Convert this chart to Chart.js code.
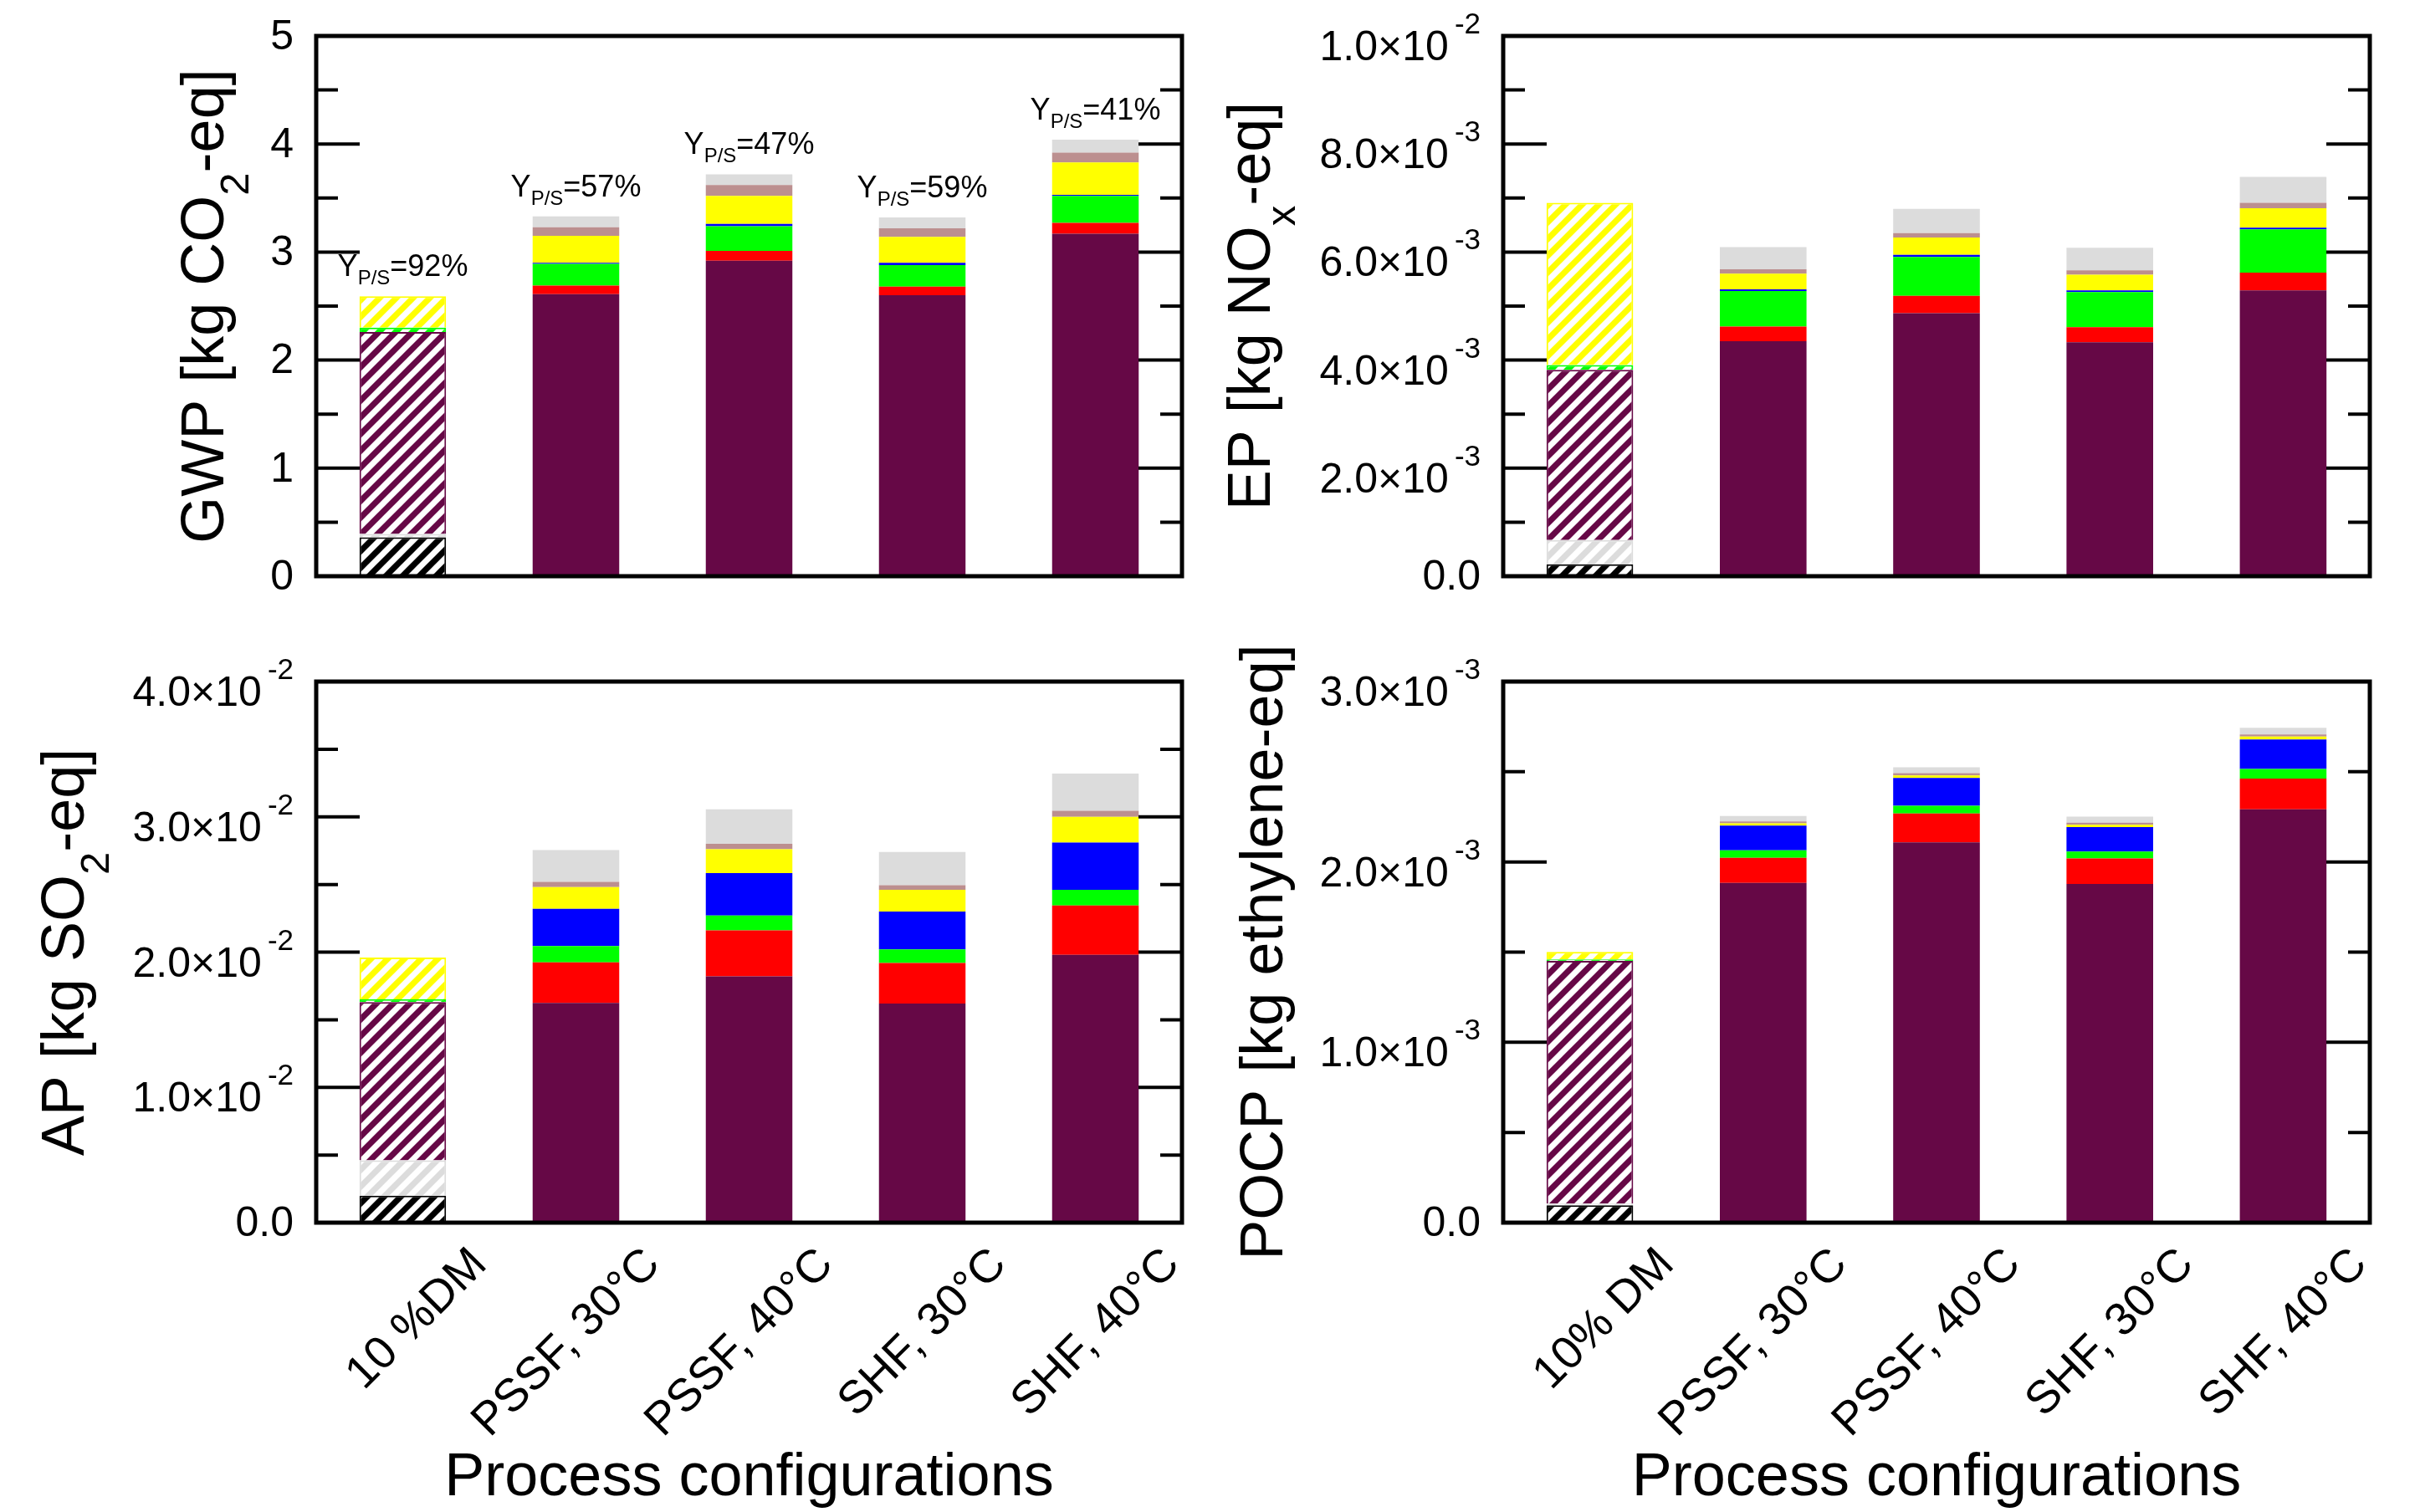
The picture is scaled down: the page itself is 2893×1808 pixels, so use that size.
<!DOCTYPE html>
<html>
<head>
<meta charset="utf-8">
<script src="https://cdn.jsdelivr.net/npm/chart.js@4.4.0/dist/chart.umd.min.js"></script>
<style>
  html, body { margin: 0; padding: 0; background: #fff; }
  body { width: 2893px; height: 1808px; position: relative; overflow: hidden; }
  canvas { position: absolute; }
</style>
</head>
<body>
<canvas id="gwp" width="1446" height="760" style="left:0px;top:0px"></canvas>
<canvas id="ep" width="1447" height="760" style="left:1446px;top:0px"></canvas>
<canvas id="ap" width="1446" height="1048" style="left:0px;top:760px"></canvas>
<canvas id="pocp" width="1447" height="1048" style="left:1446px;top:760px"></canvas>
<script>
// categories
const leftLabels = ["10 %DM", "PSSF, 30°C", "PSSF, 40°C", "SHF, 30°C", "SHF, 40°C"];
const rightLabels = ["10% DM", "PSSF, 30°C", "PSSF, 40°C", "SHF, 30°C", "SHF, 40°C"];

// stack order, bottom to top
const seriesNames = ["Black", "Grey (lower)", "Purple", "Red", "Green", "Blue", "Yellow", "Rosy brown", "Grey (upper)"];
const seriesColors = ["#000000", "#dcdcdc", "#660846", "#ff0000", "#00ff00", "#0000ff", "#ffff00", "#bc8f8f", "#dcdcdc"];

// GWP [kg CO2-eq]
const gwpBlack   = [0.36, 0, 0, 0, 0];
const gwpGreyLow = [0.03, 0, 0, 0, 0];
const gwpPurple  = [1.87, 2.61, 2.92, 2.60, 3.17];
const gwpRed     = [0, 0.08, 0.09, 0.08, 0.10];
const gwpGreen   = [0.04, 0.20, 0.23, 0.20, 0.25];
const gwpBlue    = [0, 0.01, 0.02, 0.02, 0.01];
const gwpYellow  = [0.29, 0.25, 0.26, 0.24, 0.30];
const gwpRosy    = [0, 0.08, 0.10, 0.08, 0.09];
const gwpGreyTop = [0, 0.10, 0.10, 0.10, 0.12];
const gwpYields  = ["92%", "57%", "47%", "59%", "41%"];

// EP [kg NOx-eq]
const epBlack   = [0.22e-3, 0, 0, 0, 0];
const epGreyLow = [0.45e-3, 0, 0, 0, 0];
const epPurple  = [3.15e-3, 4.35e-3, 4.87e-3, 4.33e-3, 5.29e-3];
const epRed     = [0, 0.27e-3, 0.32e-3, 0.28e-3, 0.33e-3];
const epGreen   = [0.09e-3, 0.66e-3, 0.72e-3, 0.65e-3, 0.80e-3];
const epBlue    = [0, 0.03e-3, 0.04e-3, 0.03e-3, 0.03e-3];
const epYellow  = [3.00e-3, 0.29e-3, 0.32e-3, 0.29e-3, 0.36e-3];
const epRosy    = [0, 0.08e-3, 0.08e-3, 0.08e-3, 0.10e-3];
const epGreyTop = [0, 0.41e-3, 0.45e-3, 0.42e-3, 0.48e-3];

// AP [kg SO2-eq]
const apBlack   = [0.20e-2, 0, 0, 0, 0];
const apGreyLow = [0.26e-2, 0, 0, 0, 0];
const apPurple  = [1.17e-2, 1.625e-2, 1.82e-2, 1.62e-2, 1.98e-2];
const apRed     = [0, 0.30e-2, 0.34e-2, 0.30e-2, 0.365e-2];
const apGreen   = [0.02e-2, 0.12e-2, 0.11e-2, 0.10e-2, 0.115e-2];
const apBlue    = [0, 0.275e-2, 0.315e-2, 0.28e-2, 0.35e-2];
const apYellow  = [0.31e-2, 0.16e-2, 0.175e-2, 0.16e-2, 0.19e-2];
const apRosy    = [0, 0.04e-2, 0.04e-2, 0.035e-2, 0.045e-2];
const apGreyTop = [0, 0.235e-2, 0.255e-2, 0.245e-2, 0.275e-2];

// POCP [kg ethylene-eq]
const pocpBlack   = [0.096e-3, 0, 0, 0, 0];
const pocpGreyLow = [0.01e-3, 0, 0, 0, 0];
const pocpPurple  = [1.345e-3, 1.884e-3, 2.109e-3, 1.878e-3, 2.292e-3];
const pocpRed     = [0, 0.139e-3, 0.160e-3, 0.141e-3, 0.170e-3];
const pocpGreen   = [0.008e-3, 0.041e-3, 0.043e-3, 0.039e-3, 0.053e-3];
const pocpBlue    = [0, 0.137e-3, 0.154e-3, 0.135e-3, 0.164e-3];
const pocpYellow  = [0.042e-3, 0.013e-3, 0.014e-3, 0.013e-3, 0.016e-3];
const pocpRosy    = [0, 0.010e-3, 0.012e-3, 0.012e-3, 0.012e-3];
const pocpGreyTop = [0, 0.031e-3, 0.033e-3, 0.033e-3, 0.037e-3];

// tick labels ("^" marks the exponent)
const gwpTicks  = ["0", "1", "2", "3", "4", "5"];
const epTicks   = ["0.0", "2.0×10^-3", "4.0×10^-3", "6.0×10^-3", "8.0×10^-3", "1.0×10^-2"];
const apTicks   = ["0.0", "1.0×10^-2", "2.0×10^-2", "3.0×10^-2", "4.0×10^-2"];
const pocpTicks = ["0.0", "1.0×10^-3", "2.0×10^-3", "3.0×10^-3"];

const FONT = "'Liberation Sans', Arial, Helvetica, sans-serif";

const patterns = {};
function hatch(color) {
  if (patterns[color]) return patterns[color];
  const c = document.createElement("canvas");
  c.width = 20; c.height = 20;
  const g = c.getContext("2d");
  g.fillStyle = color;
  g.fillRect(0, 0, 20, 20);
  g.strokeStyle = "#ffffff";
  g.lineWidth = 7;
  g.beginPath();
  for (let k = -1; k <= 1; k++) {
    g.moveTo(k * 20 - 5, 25);
    g.lineTo(k * 20 + 25, -5);
  }
  g.stroke();
  patterns[color] = g.createPattern(c, "repeat");
  return patterns[color];
}

function makeDatasets(series) {
  return series.map((data, k) => ({
    label: seriesNames[k],
    data: data,
    backgroundColor: data.map((v, i) => i === 0 ? hatch(seriesColors[k]) : seriesColors[k]),
    borderColor: seriesColors[k],
    borderWidth: data.map((v, i) => i === 0 && v > 0 ? 2 : 0),
    barPercentage: 0.5,
    categoryPercentage: 1.0,
    stack: "total"
  }));
}

// frame, inward ticks, y tick labels, y title, yield labels
const framePlugin = {
  id: "frame",
  afterDatasetsDraw(chart, args, opts) {
    const { ctx, chartArea: a } = chart;
    const ys = chart.scales.y;
    const vals = ys.ticks.map(t => t.value);
    ctx.save();
    ctx.strokeStyle = "#000";
    ctx.lineWidth = 4;
    ctx.beginPath();
    vals.forEach((v, i) => {
      if (i > 0 && i < vals.length - 1) {
        const py = ys.getPixelForValue(v);
        ctx.moveTo(a.left, py); ctx.lineTo(a.left + 52, py);
        ctx.moveTo(a.right, py); ctx.lineTo(a.right - 52, py);
      }
      if (i > 0) {
        const pm = ys.getPixelForValue((vals[i - 1] + v) / 2);
        ctx.moveTo(a.left, pm); ctx.lineTo(a.left + 26, pm);
        ctx.moveTo(a.right, pm); ctx.lineTo(a.right - 26, pm);
      }
    });
    ctx.stroke();
    ctx.lineWidth = 5;
    ctx.strokeRect(a.left, a.top, a.width, a.height);
    ctx.restore();
  },
  afterDraw(chart, args, opts) {
    const { ctx, chartArea: a } = chart;
    const ys = chart.scales.y;
    ctx.save();
    ctx.fillStyle = "#000";
    // y tick labels
    const right = a.left - 27;
    ys.ticks.forEach((t, i) => {
      const label = opts.tickLabels[i];
      if (label === undefined) return;
      const py = ys.getPixelForValue(t.value);
      const parts = label.split("^");
      if (parts.length === 1) {
        ctx.font = "50px " + FONT;
        ctx.textAlign = "right";
        ctx.textBaseline = "middle";
        ctx.fillText(label, right, py + 2);
      } else {
        ctx.textAlign = "left";
        ctx.textBaseline = "alphabetic";
        ctx.font = "35px " + FONT;
        const wSup = ctx.measureText(parts[1]).width;
        ctx.font = "50px " + FONT;
        const wMain = ctx.measureText(parts[0]).width;
        const base = py + 29;
        ctx.fillText(parts[0], right - wSup - 7 - wMain, base);
        ctx.font = "35px " + FONT;
        ctx.fillText(parts[1], right - wSup, base - 32);
      }
    });
    // y title with subscript
    const segs = opts.title;
    ctx.textAlign = "left";
    ctx.textBaseline = "alphabetic";
    let total = 0;
    segs.forEach(s => {
      ctx.font = (s[1] ? "49px " : "72px ") + FONT;
      total += ctx.measureText(s[0]).width;
    });
    ctx.save();
    ctx.translate(a.left - opts.titleGap, (a.top + a.bottom) / 2);
    ctx.rotate(-Math.PI / 2);
    let x = -total / 2;
    segs.forEach(s => {
      ctx.font = (s[1] ? "49px " : "72px ") + FONT;
      ctx.fillText(s[0], x, s[1] ? 30 : 0);
      x += ctx.measureText(s[0]).width;
    });
    ctx.restore();
    // yield labels over the bars
    if (opts.yields) {
      const meta = chart.getDatasetMeta(0);
      opts.yields.forEach((txt, i) => {
        let sum = 0;
        chart.data.datasets.forEach(d => { sum += d.data[i]; });
        const px = meta.data[i].x;
        const base = ys.getPixelForValue(sum) - 24;
        const pieces = [["Y", 36, 0], ["P/S", 24, 10], ["=" + txt, 36, 0]];
        let w = 0;
        pieces.forEach(p => { ctx.font = p[1] + "px " + FONT; w += ctx.measureText(p[0]).width; });
        let xx = px - w / 2;
        pieces.forEach(p => {
          ctx.font = p[1] + "px " + FONT;
          ctx.fillText(p[0], xx, base + p[2]);
          xx += ctx.measureText(p[0]).width;
        });
      });
    }
    ctx.restore();
  }
};

function makeChart(id, cfg) {
  const bottom = cfg.showX;
  new Chart(document.getElementById(id), {
    type: "bar",
    data: { labels: cfg.labels, datasets: makeDatasets(cfg.series) },
    options: {
      responsive: false,
      animation: false,
      devicePixelRatio: 1,
      events: [],
      layout: { padding: cfg.padding },
      plugins: {
        legend: { display: false },
        tooltip: { enabled: false },
        frame: { tickLabels: cfg.ticks, title: cfg.title, titleGap: cfg.titleGap, yields: cfg.yields }
      },
      scales: {
        x: {
          stacked: true,
          display: bottom,
          grid: { display: false, drawTicks: false },
          border: { display: false },
          ticks: {
            autoSkip: false,
            minRotation: 45,
            maxRotation: 45,
            labelOffset: 92,
            padding: 18,
            color: "#000",
            font: { family: FONT, size: 55 }
          },
          title: {
            display: true,
            text: "Process configurations",
            color: "#000",
            padding: 0,
            font: { family: FONT, size: 72, lineHeight: 1.1 }
          },
          afterFit(s) { s.height = bottom ? 346 : 0; }
        },
        y: {
          stacked: true,
          min: 0,
          max: cfg.max,
          grid: { display: false, drawTicks: false },
          border: { display: false },
          ticks: { display: false, stepSize: cfg.step },
          afterBuildTicks(s) { s.ticks = cfg.ticks.map((_, i) => ({ value: i * cfg.step })); },
          afterFit(s) { s.width = cfg.yWidth; }
        }
      }
    },
    plugins: [framePlugin]
  });
}

makeChart("gwp", {
  labels: leftLabels,
  series: [gwpBlack, gwpGreyLow, gwpPurple, gwpRed, gwpGreen, gwpBlue, gwpYellow, gwpRosy, gwpGreyTop],
  ticks: gwpTicks, max: 5, step: 1,
  title: [["GWP [kg CO", 0], ["2", 1], ["-eq]", 0]], titleGap: 111,
  yields: gwpYields,
  showX: false, yWidth: 378,
  padding: { left: 0, right: 33, top: 43, bottom: 71 }
});

makeChart("ep", {
  labels: rightLabels,
  series: [epBlack, epGreyLow, epPurple, epRed, epGreen, epBlue, epYellow, epRosy, epGreyTop],
  ticks: epTicks, max: 0.01, step: 0.002,
  title: [["EP [kg NO", 0], ["x", 1], ["-eq]", 0]], titleGap: 279,
  showX: false, yWidth: 351,
  padding: { left: 0, right: 60, top: 43, bottom: 71 }
});

makeChart("ap", {
  labels: leftLabels,
  series: [apBlack, apGreyLow, apPurple, apRed, apGreen, apBlue, apYellow, apRosy, apGreyTop],
  ticks: apTicks, max: 0.04, step: 0.01,
  title: [["AP [kg SO", 0], ["2", 1], ["-eq]", 0]], titleGap: 278,
  showX: true, yWidth: 378,
  padding: { left: 0, right: 33, top: 55, bottom: 0 }
});

makeChart("pocp", {
  labels: rightLabels,
  series: [pocpBlack, pocpGreyLow, pocpPurple, pocpRed, pocpGreen, pocpBlue, pocpYellow, pocpRosy, pocpGreyTop],
  ticks: pocpTicks, max: 0.003, step: 0.001,
  title: [["POCP [kg ethylene-eq]", 0]], titleGap: 264,
  showX: true, yWidth: 351,
  padding: { left: 0, right: 60, top: 55, bottom: 0 }
});
</script>
</body>
</html>
